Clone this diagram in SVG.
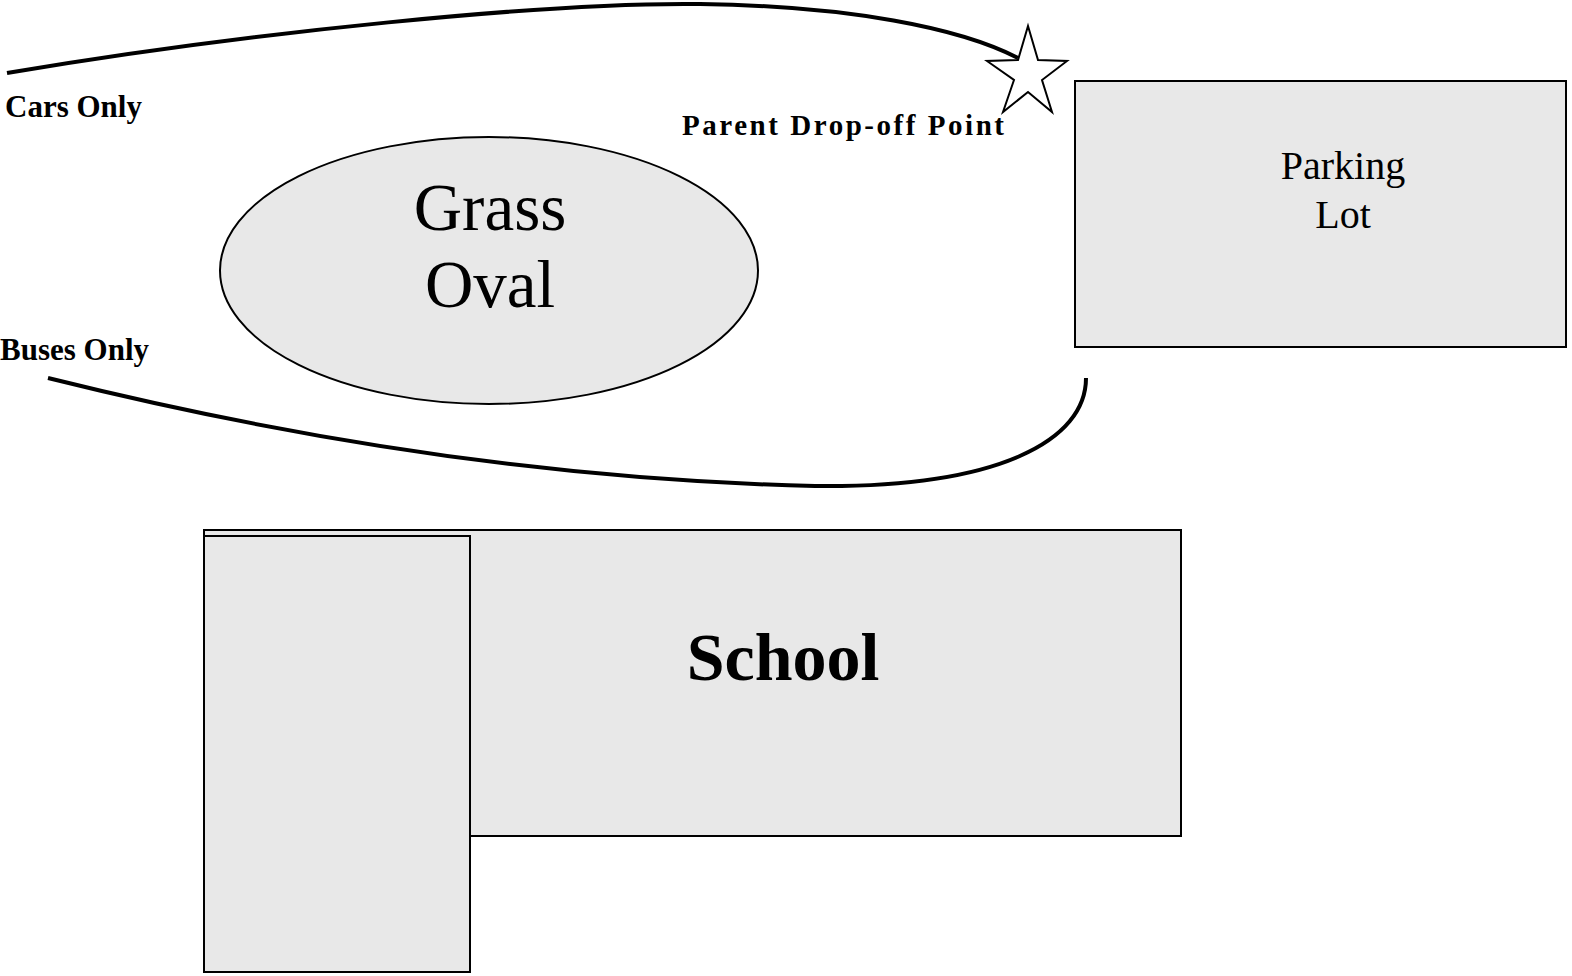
<svg xmlns="http://www.w3.org/2000/svg" width="1572" height="976" viewBox="0 0 1572 976">
<style>
.shape{fill:#e8e8e8;stroke:#000;stroke-width:2}
.road{fill:none;stroke:#000;stroke-width:4}
.lbl{font-family:"Liberation Serif","Times New Roman",serif;fill:#000}
.b{font-weight:bold}
</style>
<rect width="1572" height="976" fill="#fff"/>
<g id="connectors">
<path class="road" d="M7,73 C250,32 550,2 700,4 C850,6 960,28 1018,58"/>
<path class="road" d="M48,378 Q450,478 815,486 C1000,488 1086,440 1086,378"/>
</g>
<g id="grass-oval">
<ellipse class="shape" cx="489" cy="270.5" rx="269" ry="133.5"/>
<text class="lbl" x="490" y="230" font-size="67" text-anchor="middle">Grass</text>
<text class="lbl" x="490" y="307" font-size="67" text-anchor="middle">Oval</text>
</g>
<g id="parking-lot">
<rect class="shape" x="1075" y="81" width="491" height="266"/>
<text class="lbl" x="1343" y="179" font-size="40" text-anchor="middle">Parking</text>
<text class="lbl" x="1343" y="228" font-size="40" text-anchor="middle">Lot</text>
</g>
<g id="school">
<rect class="shape" x="204" y="530" width="977" height="306"/>
<rect class="shape" x="204" y="536" width="266" height="436"/>
<text class="lbl b" x="783" y="680" font-size="68" text-anchor="middle">School</text>
</g>
<g id="drop-off">
<polygon fill="#fff" stroke="#000" stroke-width="2" points="1028,26 1038,60 1067,61 1042,80 1052,112 1028,92 1003,112 1014,80 987,61 1018,60"/>
<text class="lbl b" x="682" y="135" font-size="29" textLength="322" lengthAdjust="spacing">Parent Drop-off Point</text>
</g>
<g id="labels">
<text class="lbl b" x="5" y="117" font-size="31">Cars Only</text>
<text class="lbl b" x="0" y="360" font-size="31">Buses Only</text>
</g>
</svg>
